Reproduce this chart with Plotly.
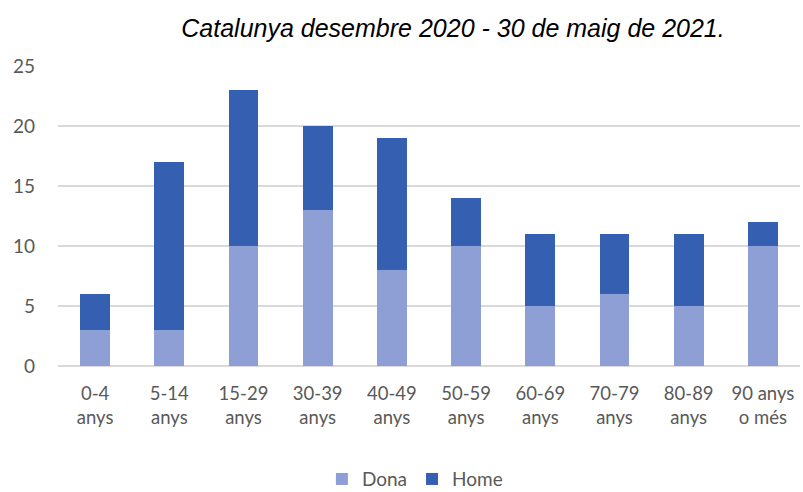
import plotly.graph_objects as go

categories = ["0-4<br>anys", "5-14<br>anys", "15-29<br>anys", "30-39<br>anys", "40-49<br>anys",
              "50-59<br>anys", "60-69<br>anys", "70-79<br>anys", "80-89<br>anys", "90 anys<br>o més"]
dona = [3, 3, 10, 13, 8, 10, 5, 6, 5, 10]
home = [3, 14, 13, 7, 11, 4, 6, 5, 6, 2]
y_ticks = [0, 5, 10, 15, 20, 25]

fig = go.Figure()
fig.add_trace(go.Bar(x=categories, y=dona, name="Dona", marker=dict(color="#8d9fd4", line=dict(width=0))))
fig.add_trace(go.Bar(x=categories, y=home, name="Home", marker=dict(color="#355fb1", line=dict(width=0))))

fig.update_layout(
    barmode="stack",
    bargap=0.6,
    width=803, height=492,
    margin=dict(l=58, r=3, t=66, b=126, autoexpand=False),
    paper_bgcolor="white", plot_bgcolor="white",
    font=dict(family="Lato, Open Sans, sans-serif", size=18, color="#595959"),
    title=dict(text="<i>Catalunya desembre 2020 - 30 de maig de 2021.</i>",
               font=dict(family="Liberation Sans, Arial", size=25, color="#000000"),
               x=453/803, xanchor="center", xref="container", y=1-28/492, yanchor="middle", yref="container"),
    legend=dict(orientation="h", x=0.481, xanchor="center", y=-0.377, yref="paper", yanchor="middle",
                font=dict(size=19, color="#595959"), traceorder="normal", itemwidth=30),
    xaxis=dict(showgrid=False, showline=False, ticks="", automargin=False, ticklabelstandoff=14,
               tickfont=dict(size=18.5, color="#595959")),
    yaxis=dict(range=[0, 25], tickvals=y_ticks, showgrid=True, gridcolor="#d9d9d9", gridwidth=1.5,
               zeroline=True, zerolinecolor="#d9d9d9", zerolinewidth=1.5, showline=False, ticks="",
               automargin=False, ticklabelstandoff=22, tickfont=dict(size=19, color="#595959")),
)
fig.write_html("out.html", config={"displayModeBar": False},
               post_script="document.body.style.margin='0';document.body.style.overflow='hidden';")
